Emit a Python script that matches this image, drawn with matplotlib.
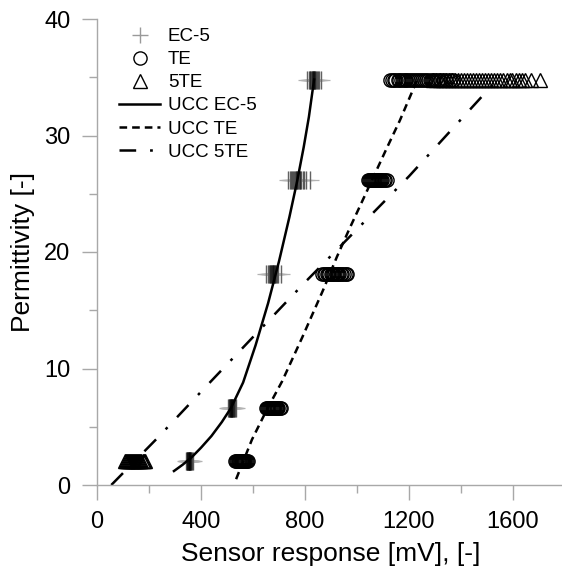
import matplotlib
matplotlib.use("Agg")
import matplotlib.pyplot as plt
from matplotlib.lines import Line2D
from matplotlib.ticker import MultipleLocator

plt.rcParams['font.family'] = ['Liberation Sans', 'DejaVu Sans']
plt.rcParams['lines.scale_dashes'] = False

# ---- data ----
levels = [2.1, 6.6, 18.1, 26.2, 34.8]

ec5_x = [
    [341, 345, 347, 348, 349, 350, 351, 352, 353, 354, 355, 355, 356, 357,
     358, 359, 360, 362, 364, 369],
    [503, 507, 509, 511, 512, 513, 514, 515, 516, 517, 518, 519, 520, 521,
     522, 523, 525, 527, 529, 533],
    [650, 659, 662, 665, 667, 669, 671, 672, 674, 675, 676, 678, 679, 681,
     683, 685, 688, 692, 697, 708],
    [733, 742, 747, 751, 755, 758, 761, 764, 767, 769, 771, 774, 776, 779,
     782, 786, 791, 797, 805, 818],
    [806, 814, 818, 821, 824, 826, 828, 830, 831, 832, 833, 835, 836, 838,
     840, 843, 846, 850, 855, 862],
]
te_x = [
    [532, 535, 539, 542, 545, 548, 550, 552, 554, 556, 558, 560, 562, 564,
     566, 569, 572, 575, 579],
    [651, 655, 659, 663, 666, 669, 672, 675, 677, 680, 682, 685, 688, 691,
     694, 698, 702, 707],
    [866, 872, 878, 884, 889, 894, 899, 904, 909, 913, 918, 922, 927, 932,
     937, 943, 949, 956, 963],
    [1041, 1045, 1050, 1054, 1058, 1062, 1066, 1070, 1073, 1077, 1081, 1085,
     1089, 1093, 1098, 1103, 1108, 1114],
    [1128, 1135, 1141, 1148, 1156, 1162, 1169, 1177, 1184, 1190, 1198, 1205,
     1213, 1220, 1227, 1235, 1242, 1250, 1258, 1266, 1274, 1283, 1291, 1300,
     1310, 1320, 1331, 1343, 1356, 1369],
]
te5_levels = [2.1, 34.8]
te5_x = [
    [106, 110, 115, 118, 122, 127, 130, 134, 139, 142, 146, 151, 154, 158,
     163, 166, 170, 175, 179, 183],
    [1292, 1305, 1318, 1330, 1341, 1353, 1364, 1376, 1388, 1399, 1411, 1423,
     1434, 1446, 1458, 1469, 1481, 1493, 1505, 1516, 1528, 1540, 1551, 1563,
     1575, 1587, 1598, 1610, 1622, 1634, 1645, 1668, 1702],
]

ucc_ec5_x = [296, 330, 365, 400, 440, 480, 515, 562, 610, 658, 700, 740, 770,
             795, 815, 835]
ucc_ec5_y = [1.2, 1.75, 2.4, 3.2, 4.2, 5.4, 6.6, 8.8, 12.0, 15.6, 19.2, 23.0,
             26.1, 29.0, 31.6, 34.8]
ucc_te_x = [535, 596, 654, 712, 790, 869, 923, 969, 1050, 1110, 1165, 1232]
ucc_te_y = [0.5, 3.9, 6.5, 8.9, 12.7, 16.7, 19.6, 21.9, 25.8, 28.7, 31.3, 34.8]
ucc_5te_x = [55, 231, 400, 800, 1200, 1540]
ucc_5te_y = [0.0, 4.0, 8.0, 17.4, 26.5, 34.8]

xticks = [0, 400, 800, 1200, 1600]
yticks = [0, 10, 20, 30, 40]

# ---- figure ----
fig = plt.figure(figsize=(5.62, 5.74), dpi=100)
ax = fig.add_axes([97 / 562, 89 / 574, 468 / 562, 466 / 574])

plus_kw = dict(ls='none', marker='+', color='0.7', ms=12.5, mew=0.9)
bar_kw = dict(ls='none', marker='|', color='k', alpha=0.45, ms=12.5, mew=1.0)
circ_kw = dict(ls='none', marker='o', mfc='none', mec='k', ms=9.5, mew=1.0)
tri_kw = dict(ls='none', marker='^', mfc='none', mec='k', ms=9.5, mew=1.0)

for lvl, xs in zip(levels, ec5_x):
    ax.plot(xs, [lvl] * len(xs), **plus_kw)
    ax.plot(xs, [lvl] * len(xs), **bar_kw)
for lvl, xs in zip(levels, te_x):
    ax.plot(xs, [lvl] * len(xs), **circ_kw)
for lvl, xs in zip(te5_levels, te5_x):
    ax.plot(xs, [lvl] * len(xs), **tri_kw)

ax.plot(ucc_ec5_x, ucc_ec5_y, color='k', lw=1.8)
l_te, = ax.plot(ucc_te_x, ucc_te_y, color='k', lw=1.8)
l_te.set_dashes([5.5, 3.6])
l_5te, = ax.plot(ucc_5te_x, ucc_5te_y, color='k', lw=1.8)
l_5te.set_dashes([12, 10, 2, 10])

ax.set_xlim(0, 1800)
ax.set_ylim(0, 40)
ax.set_xticks(xticks)
ax.set_yticks(yticks)
ax.xaxis.set_minor_locator(MultipleLocator(200))
ax.yaxis.set_minor_locator(MultipleLocator(5))
for s in ['top', 'right']:
    ax.spines[s].set_visible(False)
for s in ['left', 'bottom']:
    ax.spines[s].set_color('#a8a8a8')
    ax.spines[s].set_linewidth(1.0)
ax.tick_params(which='major', direction='out', length=11, width=1.0,
               color='#a8a8a8', labelsize=17, pad=8)
ax.tick_params(which='minor', direction='out', length=5.5, width=1.0,
               color='#a8a8a8')

ax.set_xlabel('Sensor response [mV], [-]', fontsize=19, labelpad=6)
ax.set_ylabel('Permittivity [-]', fontsize=19, labelpad=7)

# legend proxies
h_plus = Line2D([], [], ls='none', marker='+', color='0.6', ms=11, mew=1.0)
h_circ = Line2D([], [], ls='none', marker='o', mfc='none', mec='k', ms=9.5, mew=1.0)
h_tri = Line2D([], [], ls='none', marker='^', mfc='none', mec='k', ms=9.5, mew=1.0)
h_l1 = Line2D([], [], color='k', lw=1.8)
h_l2 = Line2D([], [], color='k', lw=1.8, dashes=[5.5, 3.6])
h_l3 = Line2D([], [], color='k', lw=1.8, dashes=[12, 10, 2, 10])
fig.legend([h_plus, h_circ, h_tri, h_l1, h_l2, h_l3],
           ['EC-5', 'TE', '5TE', 'UCC EC-5', 'UCC TE', 'UCC 5TE'],
           loc='upper left', bbox_to_anchor=(119 / 562, 1 - 28 / 574),
           frameon=False, fontsize=13.5, handlelength=2.2, handletextpad=0.4,
           labelspacing=0.32, borderpad=0, borderaxespad=0)

fig.savefig('out.png', dpi=100)
